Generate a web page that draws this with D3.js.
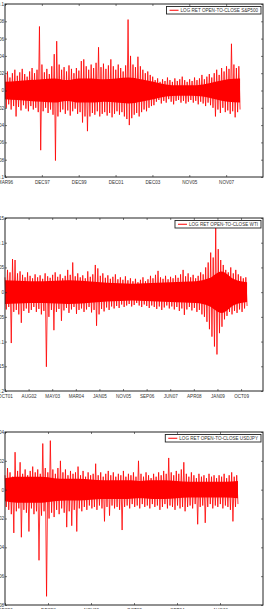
<!DOCTYPE html>
<html>
<head>
<meta charset="utf-8">
<script src="https://cdn.jsdelivr.net/npm/d3@7"></script>
<style>
    body { margin: 0; background: #fff; }
    text { font-family: "Liberation Sans", Arial, sans-serif; }
</style>
</head>
<body>
<svg id="chart" width="266" height="609"></svg>
<script>
// per-bin highs and lows (daily log returns, open-to-close)
var spxHi = [0.018,0.022,0.015,0.02,0.024,0.017,0.021,0.025,0.019,0.016,0.022,0.026,0.02,0.024,
    0.074,0.03,0.021,0.025,0.019,0.028,0.042,0.057,
    0.03,0.024,0.027,0.022,0.029,0.025,0.02,0.026,0.023,0.034,0.036,
    0.028,0.024,0.03,0.026,0.032,0.05,0.027,0.031,0.025,0.029,0.036,
    0.028,0.024,0.03,0.026,0.022,0.029,0.082,0.04,0.03,0.027,0.039,
    0.028,0.024,0.02,0.022,0.018,0.016,
    0.012,0.014,0.01,0.013,0.011,0.015,0.012,0.01,0.014,0.011,0.013,0.016,0.012,0.01,0.013,0.011,0.015,0.012,0.014,0.018,0.013,0.016,0.019,0.015,
    0.02,0.024,0.018,0.026,0.022,0.028,0.025,0.054,0.03,0.026,0.028];
var spxLo = [-0.02,-0.016,-0.022,-0.018,-0.03,-0.019,-0.023,-0.017,-0.021,-0.024,-0.018,-0.022,-0.02,-0.025,
    -0.069,-0.024,-0.02,-0.026,-0.022,-0.028,-0.081,
    -0.03,-0.025,-0.022,-0.027,-0.023,-0.029,-0.024,-0.021,-0.027,-0.025,-0.037,-0.03,-0.047,
    -0.03,-0.026,-0.028,-0.024,-0.03,-0.027,-0.025,-0.029,-0.026,-0.031,-0.027,-0.024,-0.028,-0.025,-0.03,-0.033,
    -0.04,-0.032,-0.028,-0.026,-0.03,-0.025,-0.022,-0.024,-0.02,-0.018,-0.017,
    -0.013,-0.011,-0.015,-0.012,-0.014,-0.01,-0.013,-0.016,-0.012,-0.011,-0.014,-0.012,-0.015,-0.013,-0.011,-0.014,-0.012,-0.016,-0.013,-0.015,-0.018,-0.014,-0.017,-0.02,
    -0.03,-0.022,-0.026,-0.02,-0.025,-0.023,-0.027,-0.024,-0.031,-0.025,-0.022];
// half-width of the solid core of the band, coarse bins
var spxCore = [0.01,0.011,0.012,0.013,0.014,0.012,0.014,0.014,0.013,0.014,
    0.015,0.013,0.01,0.007,0.006,0.006,0.007,0.01,0.013,0.014];
var spxTicks = ["MAR96","DEC97","DEC99","DEC01","DEC03","NOV05","NOV07"];

var wtiHi = [0.03,0.045,0.04,0.067,0.065,0.038,0.042,0.035,0.03,0.04,0.033,0.028,0.036,0.03,0.034,0.027,
    0.038,0.032,0.029,0.035,0.04,0.031,0.036,0.028,0.033,0.045,0.035,0.06,0.032,0.038,0.03,0.034,
    0.028,0.042,0.031,0.036,0.055,0.048,0.033,0.038,0.029,0.034,0.027,0.031,0.036,0.026,0.03,0.025,
    0.032,0.024,0.028,0.022,0.027,0.02,0.025,0.03,0.022,0.026,0.033,0.028,0.035,0.043,0.03,0.027,
    0.033,0.026,0.031,0.028,0.034,0.029,0.036,0.045,0.032,0.038,0.03,0.035,0.028,0.033,0.04,0.036,
    0.05,0.06,0.08,0.07,0.132,0.087,0.065,0.055,0.045,0.04,0.05,0.038,0.045,0.036,0.032,0.028,0.03];
var wtiLo = [-0.035,-0.03,-0.103,-0.04,-0.036,-0.045,-0.062,-0.038,-0.033,-0.042,-0.036,-0.03,-0.04,-0.034,-0.045,-0.038,
    -0.151,-0.05,-0.036,-0.077,-0.04,-0.034,-0.058,-0.037,-0.032,-0.042,-0.035,-0.03,-0.044,-0.036,-0.033,-0.04,
    -0.035,-0.03,-0.041,-0.036,-0.068,-0.045,-0.034,-0.039,-0.031,-0.036,-0.029,-0.033,-0.028,-0.032,-0.025,-0.03,
    -0.027,-0.024,-0.029,-0.026,-0.022,-0.027,-0.03,-0.025,-0.028,-0.032,-0.027,-0.03,-0.034,-0.029,-0.036,-0.031,
    -0.027,-0.033,-0.029,-0.035,-0.03,-0.038,-0.033,-0.046,-0.035,-0.03,-0.037,-0.032,-0.04,-0.036,-0.045,-0.05,
    -0.06,-0.075,-0.09,-0.11,-0.126,-0.083,-0.07,-0.055,-0.048,-0.04,-0.045,-0.038,-0.042,-0.035,-0.04,-0.033,-0.028];
var wtiCore = [0.024,0.023,0.022,0.022,0.023,0.024,0.023,0.021,0.019,0.018,
    0.017,0.018,0.019,0.02,0.021,0.022,0.028,0.042,0.026,0.02];
var wtiTicks = ["OCT01","AUG02","MAY03","MAR04","JAN05","NOV05","SEP06","JUN07","APR08","JAN09","OCT09"];

var jpyHi = [0.01,0.015,0.012,0.009,0.026,0.013,0.019,0.011,0.014,0.01,0.013,0.016,0.012,0.014,0.011,0.032,
    0.015,0.012,0.034,0.014,0.011,0.015,0.02,0.012,0.014,0.01,0.013,0.011,0.012,0.016,0.01,0.013,
    0.009,0.012,0.01,0.011,0.018,0.01,0.012,0.009,0.011,0.013,0.01,0.012,0.009,0.011,0.01,0.013,
    0.009,0.011,0.01,0.012,0.009,0.02,0.011,0.009,0.012,0.01,0.008,0.011,0.009,0.012,0.01,0.013,
    0.011,0.022,0.012,0.01,0.013,0.011,0.014,0.019,0.011,0.009,0.012,0.01,0.008,0.011,0.009,0.01,
    0.008,0.011,0.009,0.01,0.008,0.01,0.009,0.011,0.008,0.01,0.012,0.009,0.01];
var jpyLo = [-0.012,-0.014,-0.017,-0.03,-0.015,-0.013,-0.033,-0.014,-0.016,-0.029,-0.013,-0.017,-0.015,-0.049,-0.018,-0.015,
    -0.074,-0.02,-0.016,-0.019,-0.014,-0.017,-0.013,-0.016,-0.026,-0.015,-0.025,-0.014,-0.029,-0.013,-0.015,-0.012,
    -0.014,-0.011,-0.013,-0.012,-0.014,-0.011,-0.013,-0.022,-0.012,-0.018,-0.011,-0.013,-0.012,-0.014,-0.028,-0.012,
    -0.011,-0.013,-0.01,-0.012,-0.011,-0.013,-0.01,-0.012,-0.011,-0.013,-0.01,-0.012,-0.011,-0.014,-0.012,-0.01,
    -0.013,-0.011,-0.012,-0.014,-0.011,-0.013,-0.012,-0.015,-0.012,-0.011,-0.013,-0.01,-0.024,-0.012,-0.011,-0.023,
    -0.012,-0.01,-0.013,-0.011,-0.012,-0.01,-0.013,-0.011,-0.012,-0.014,-0.022,-0.012,-0.01];
var jpyCore = [0.008,0.009,0.009,0.009,0.008,0.0075,0.0075,0.007,0.0065,0.0065,
    0.0065,0.006,0.0065,0.0065,0.006,0.0055,0.0055,0.0055,0.0055,0.006];
var jpyTicks = ["DEC96","DEC98","NOV00","OCT02","SEP04","AUG06"];

var panels = [
    {name: "LOG RET OPEN-TO-CLOSE S&P500", hi: spxHi, lo: spxLo, core: spxCore, labels: spxTicks,
        obs: 3189, axisObs: 3500, tickStep: 500, yDomain: [-0.1, 0.1], yStep: 0.02, top: 4},
    {name: "LOG RET OPEN-TO-CLOSE WTI", hi: wtiHi, lo: wtiLo, core: wtiCore, labels: wtiTicks,
        obs: 2051, axisObs: 2186, tickStep: 200, yDomain: [-0.2, 0.15], yStep: 0.05, top: 218},
    {name: "LOG RET OPEN-TO-CLOSE USDJPY", hi: jpyHi, lo: jpyLo, core: jpyCore, labels: jpyTicks,
        obs: 2709, axisObs: 3000, tickStep: 500, yDomain: [-0.08, 0.04], yStep: 0.02, top: 432}
];

var svg = d3.select("#chart");
var left = 5, right = 263, panelHeight = 173, tickLen = 2, fontSize = 4.6;

panels.forEach(function (p) {
    var g = svg.append("g").attr("transform", "translate(0," + p.top + ")");

    var xScale = d3.scaleLinear().domain([0, p.axisObs]).range([left, right]);
    var yScale = d3.scaleLinear().domain(p.yDomain).range([panelHeight, 0]);

    // solid core of the band
    var coreStep = p.obs / (p.core.length - 1);
    var area = d3.area()
        .x(function (d, i) { return xScale(i * coreStep); })
        .y0(function (d) { return yScale(-d); })
        .y1(function (d) { return yScale(d); })
        .curve(d3.curveMonotoneX);
    g.append("path")
        .datum(p.core)
        .attr("d", area)
        .attr("fill", "#ff0000");

    // zig-zag hi/lo per bin for the spiky fringe
    var pts = [];
    var step = p.obs / (p.hi.length * 2 - 1);
    p.hi.forEach(function (h, i) {
        pts.push([2 * i * step, h]);
        pts.push([(2 * i + 1) * step, p.lo[i]]);
    });

    var line = d3.line()
        .x(function (d) { return xScale(d[0]); })
        .y(function (d) { return yScale(d[1]); });

    g.append("path")
        .datum(pts)
        .attr("d", line)
        .attr("fill", "none")
        .attr("stroke", "#ff0000")
        .attr("stroke-width", 0.8)
        .attr("stroke-linejoin", "bevel");

    var xTicks = p.labels.map(function (l, i) { return i * p.tickStep; });
    var yTicks = d3.range(p.yDomain[0], p.yDomain[1] + p.yStep / 2, p.yStep);

    var xAxis = d3.axisBottom(xScale)
        .tickValues(xTicks)
        .tickSizeInner(-tickLen).tickSizeOuter(0)
        .tickPadding(4)
        .tickFormat(function (d, i) { return p.labels[i]; });
    var xAxisTop = d3.axisTop(xScale)
        .tickValues(xTicks)
        .tickSizeInner(-tickLen).tickSizeOuter(0)
        .tickFormat("");
    var yAxis = d3.axisLeft(yScale)
        .tickValues(yTicks)
        .tickSizeInner(-tickLen).tickSizeOuter(0)
        .tickPadding(1)
        .tickFormat(function (d) { return Math.abs(d) < 1e-9 ? "0" : d3.format("~g")(+d.toFixed(3)); });
    var yAxisRight = d3.axisRight(yScale)
        .tickValues(yTicks)
        .tickSizeInner(-tickLen).tickSizeOuter(0)
        .tickFormat("");

    g.append("g").attr("transform", "translate(0," + panelHeight + ")").call(xAxis);
    g.append("g").call(xAxisTop);
    g.append("g").attr("transform", "translate(" + left + ",0)").call(yAxis);
    g.append("g").attr("transform", "translate(" + right + ",0)").call(yAxisRight);

    g.selectAll(".domain").remove();
    g.selectAll(".tick line").attr("stroke", "#222").attr("stroke-width", 0.6);
    g.selectAll(".tick text").attr("font-size", fontSize).attr("fill", "#333");

    g.append("rect")
        .attr("x", left).attr("y", 0)
        .attr("width", right - left).attr("height", panelHeight)
        .attr("fill", "none")
        .attr("stroke", "#222")
        .attr("stroke-width", 1);

    // legend
    var lg = g.append("g");
    var box = lg.append("rect")
        .attr("fill", "#fff")
        .attr("stroke", "#222")
        .attr("stroke-width", 0.9);
    var txt = lg.append("text")
        .attr("font-size", fontSize)
        .attr("fill", "#333")
        .text(p.name);
    var tw = txt.node().getComputedTextLength();
    var bx = right - 2 - (tw + 17), by = 2.5, bh = 7.5;
    box.attr("x", bx).attr("y", by).attr("width", tw + 17).attr("height", bh);
    lg.append("line")
        .attr("x1", bx + 3).attr("x2", bx + 12)
        .attr("y1", by + bh / 2).attr("y2", by + bh / 2)
        .attr("stroke", "#ff0000").attr("stroke-width", 1);
    txt.attr("x", bx + 14).attr("y", by + bh / 2 + fontSize * 0.35);
});
</script>
</body>
</html>
